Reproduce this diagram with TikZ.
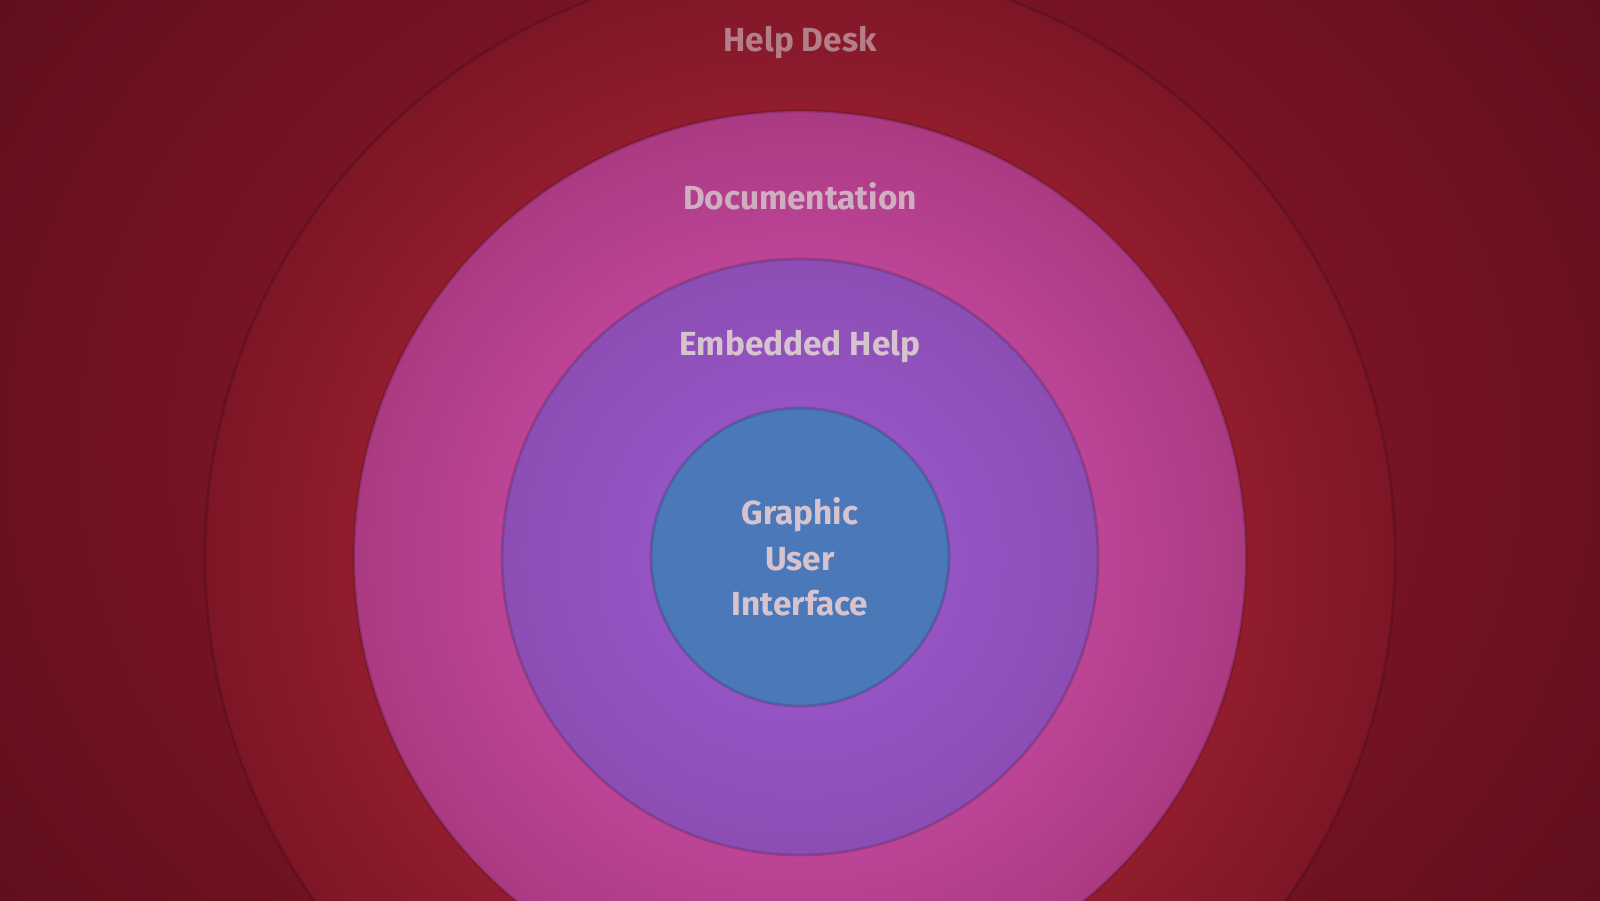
\documentclass[tikz,border=0pt]{standalone}
\usepackage{fontspec}
\setmainfont{Fira Sans}
\usetikzlibrary{positioning}
\definecolor{bgdark}{RGB}{95,14,28}
\definecolor{bglight}{RGB}{150,28,45}
\definecolor{deskin}{RGB}{205,48,68}
\definecolor{deskout}{RGB}{125,22,38}
\definecolor{docin}{RGB}{225,88,190}
\definecolor{docout}{RGB}{170,58,130}
\definecolor{embin}{RGB}{158,90,212}
\definecolor{embout}{RGB}{140,78,180}
\definecolor{guifill}{RGB}{75,120,185}
\definecolor{txt}{RGB}{215,195,205}

\begin{document}
\begin{tikzpicture}[
  ring/.style={circle, inner sep=0pt, draw=black, draw opacity=0.15, line width=0.8pt},
  caption/.style={font=\fontsize{9.5pt}{13pt}\selectfont\bfseries, text=txt, align=center},
]
  \useasboundingbox (0,0) rectangle (16,9);
  \clip (0,0) rectangle (16,9);
  \shade[inner color=bglight, outer color=bgdark] (-2,-4) rectangle (18,13);

  \node[ring, minimum size=11.9cm, inner color=deskin, outer color=deskout] (desk) at (8,3.43) {};
  \node[ring, minimum size=8.92cm, inner color=docin, outer color=docout] (doc) at (desk.center) {};
  \node[ring, minimum size=5.96cm, inner color=embin, outer color=embout] (emb) at (desk.center) {};
  \node[ring, minimum size=2.98cm, fill=guifill] (gui) at (desk.center) {};

  \node[caption, text=txt!60!deskout] (desklbl) at (8,8.57) {Help Desk};
  \node[caption, text=txt!85!docout] (doclbl) at (8,7.04) {Documentation};
  \node[caption] (emblbl) at (8,5.53) {Embedded Help};
  \node[caption] (guilbl) at (gui.center) {Graphic\\User\\Interface};
\end{tikzpicture}
\end{document}
